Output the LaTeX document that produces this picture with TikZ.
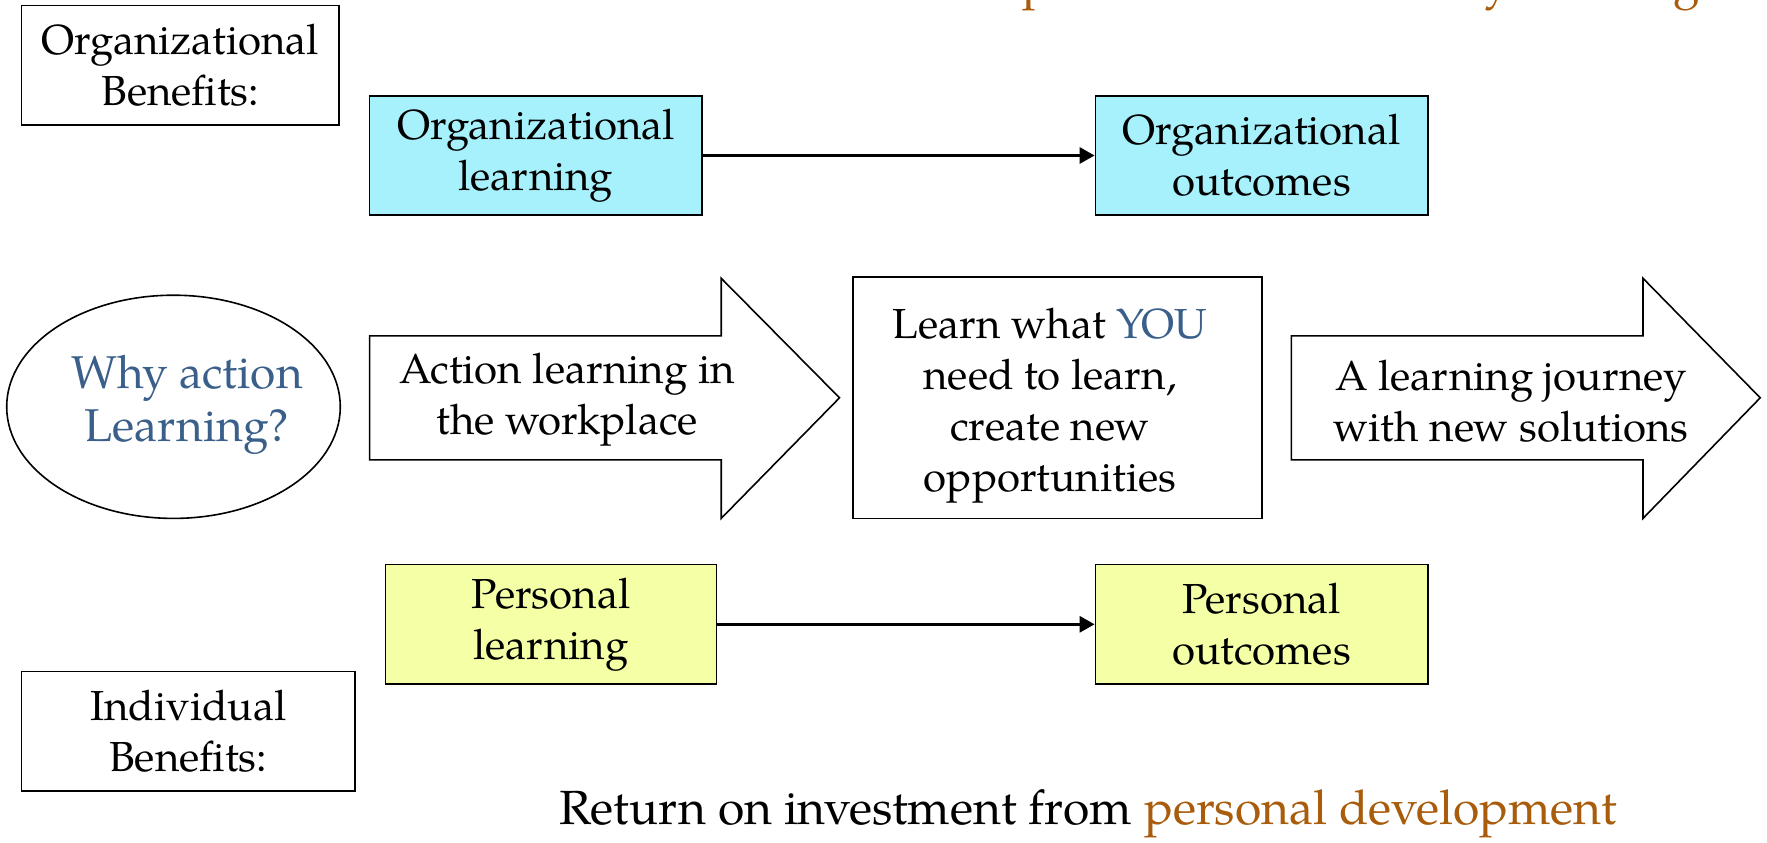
\documentclass[tikz,border=0pt]{standalone}
\usepackage{fontspec}
\setmainfont{TeX Gyre Pagella}
\usetikzlibrary{arrows.meta}
\definecolor{cyanfill}{HTML}{A6F1FB}
\definecolor{yellowfill}{HTML}{F5FFA6}
\definecolor{slateblue}{HTML}{3A5F8A}
\definecolor{rustorange}{HTML}{A85C0C}
\tikzset{
  boxtext/.style={font=\fontsize{42}{51}\selectfont, align=center},
  labelbox/.style={draw, line width=1.6pt, fill=white, inner sep=0pt, boxtext},
  orgbox/.style={labelbox, fill=cyanfill},
  perbox/.style={labelbox, fill=yellowfill},
  bigarrow/.style={draw, line width=1.6pt, fill=white, line join=miter},
  flow/.style={line width=3pt, -{Triangle[length=15pt,width=16pt]}}
}
\begin{document}
\begin{tikzpicture}[x=1pt,y=-1pt]
\useasboundingbox (0,0) rectangle (1767,843);
% cut-off heading at the top edge
\node[anchor=base east, inner sep=0pt, text=rustorange, font=\fontsize{48}{56}\selectfont] (heading) at (1700,-2) {development and community learning};
% side labels
\node[labelbox, minimum width=317.8pt, minimum height=119.5pt] (orgben) at (180.3,65.4) {Organizational\\Benefits:};
\node[labelbox, minimum width=333.6pt, minimum height=119.5pt] (indben) at (188.2,731.4) {Individual\\Benefits:};
% organizational row
\node[orgbox, minimum width=332.5pt, minimum height=119.4pt] (orglearn) at (535.9,155.5) {Organizational\\learning};
\node[orgbox, minimum width=332.4pt, minimum height=119.4pt] (orgout) at (1261.6,155.5) {Organizational\\outcomes};
\draw[flow] (orglearn.east) -- (orgout.west);
% personal row
\node[perbox, minimum width=331.3pt, minimum height=119.4pt] (perlearn) at (551,624.3) {Personal\\learning};
\node[perbox, minimum width=332.4pt, minimum height=119.4pt] (perout) at (1261.6,624.3) {Personal\\outcomes};
\draw[flow] (perlearn.east) -- (perout.west);
% middle row
\draw[line width=1.6pt] (173.5,406.8) ellipse [x radius=166.8, y radius=111.6];
\node[boxtext, text=slateblue, font=\fontsize{46}{53}\selectfont] (why) at (187,404.6) {Why action\\Learning?};
\draw[bigarrow] (369.6,335.8) -- (721.2,335.8) -- (721.2,278.3) -- (839.5,397.8) -- (721.2,518.4) -- (721.2,459.8) -- (369.6,459.8) -- cycle;
\node[boxtext] (act) at (567,400) {Action learning in\\the workplace};
\node[labelbox, minimum width=409pt, minimum height=241.2pt] (mid) at (1057.5,397.8) {};
\node[boxtext] (midtext) at (1050,406) {Learn what {\color{slateblue}YOU}\\need to learn,\\create new\\opportunities};
\draw[bigarrow] (1291.4,335.8) -- (1643,335.8) -- (1643,278.3) -- (1760.2,397.8) -- (1643,518.4) -- (1643,459.8) -- (1291.4,459.8) -- cycle;
\node[boxtext] (journey) at (1511,401) {A learning journey\\with new solutions};
% bottom line
\node[inner sep=0pt, font=\fontsize{48}{56}\selectfont] (roi) at (1088.6,813.6) {Return on investment from {\color{rustorange}personal development}};
\end{tikzpicture}
\end{document}
